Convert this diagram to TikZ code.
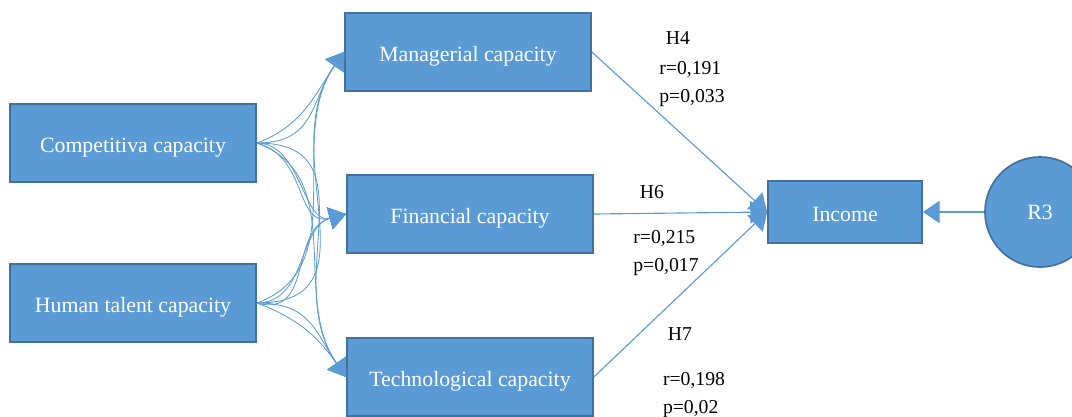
\documentclass[tikz,border=0pt]{standalone}
\usepackage{fontspec}
\setmainfont{Liberation Serif}
\usepackage{xcolor}
\usepackage{tikz}
\usetikzlibrary{arrows.meta,positioning}
\definecolor{boxfill}{HTML}{5B9BD5}
\definecolor{boxline}{HTML}{41719C}
\definecolor{link}{HTML}{5B9BD5}

\begin{document}
\begin{tikzpicture}[x=0.025cm, y=-0.025cm,
    capbox/.style={draw=boxline, line width=1.2pt, fill=boxfill, text=white,
      minimum width=6.15cm, minimum height=1.95cm, text height=14pt, text depth=0pt,
      font=\fontsize{15.5}{18}\selectfont},
    outbox/.style={capbox, minimum width=3.85cm, minimum height=1.55cm},
    resid/.style={circle, draw=boxline, line width=1.2pt, fill=boxfill, text=white,
      minimum size=2.75cm, font=\fontsize{15.5}{18}\selectfont},
    curv/.style={draw=link, line width=0.6pt, -{Triangle[width=16pt,length=12pt]}},
    path/.style={draw=link, line width=0.8pt, -{Triangle[width=16pt,length=12pt]}},
    stat/.style={font=\fontsize{14}{19.5}\selectfont, align=left}]
  \useasboundingbox (0,0) rectangle (1072,416);

  % antecedents
  \node[capbox] (comp) at (133,143) {Competitiva capacity\hspace{10pt}};
  \node[capbox] (human) at (133,303) {Human talent capacity\hspace{10pt}};

  % capacities
  \node[capbox] (manag) at (468,52) {Managerial capacity\hspace{20pt}};
  \node[capbox] (finan) at (470,214) {Financial capacity\hspace{20pt}};
  \node[capbox] (techn) at (470,377) {Technological capacity\hspace{20pt}};

  % outcome
  \node[outbox] (income) at (845,212) {Income};
  \node[resid] (rthree) at (1040,212) {R3};

  % curved links
  \foreach \src in {comp,human} {
    \foreach \dst/\oa/\ob/\ang in {manag/20/0/235,finan/0/-15/195,techn/-20/0/125} {
      \draw[curv] (\src.east) to[out=\oa, in=\ang, looseness=1] (\dst.west);
      \draw[curv] (\src.east) to[out=\ob, in=\ang, looseness=1.2] (\dst.west);
    }
  }

  % paths to income
  \draw[path] (manag.east) -- (income.west);
  \draw[path] (finan.east) -- (income.west);
  \draw[path] (techn.east) -- (income.west);
  \draw[path] (rthree.west) -- (income.east);

  % labels
  \node[stat] (hfour) at (678,38) {H4};
  \node[stat] (sfour) at (692,84) {r=0,191\\p=0,033};
  \node[stat] (hsix) at (652,192) {H6};
  \node[stat] (ssix) at (666,253) {r=0,215\\p=0,017};
  \node[stat] (hseven) at (680,334) {H7};
  \node[stat] (sseven) at (694,395) {r=0,198\\p=0,02};
\end{tikzpicture}
\end{document}
